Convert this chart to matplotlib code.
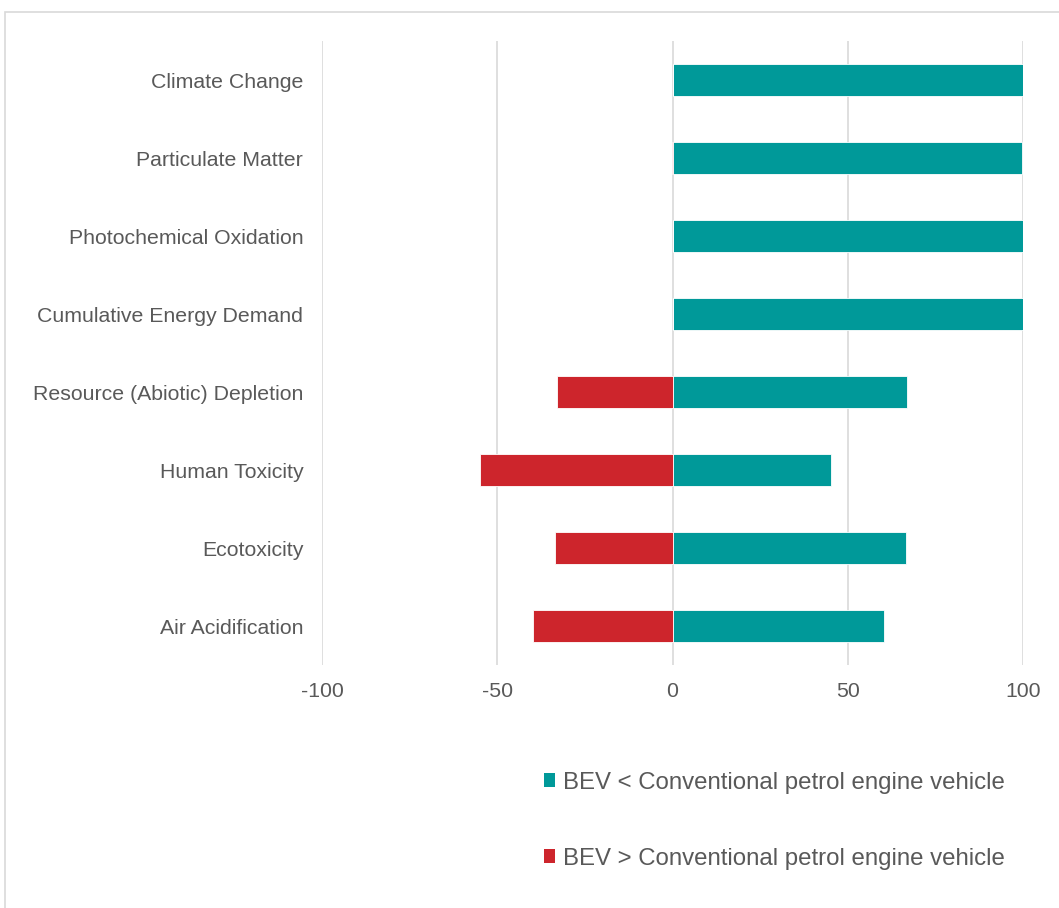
import matplotlib.pyplot as plt
from matplotlib.patches import Rectangle, Patch

plt.rcParams['font.family'] = ['Liberation Sans', 'DejaVu Sans']

# Categorias de impacto (de arriba abajo)
categorias = ["Climate Change", "Particulate Matter", "Photochemical Oxidation",
              "Cumulative Energy Demand", "Resource (Abiotic) Depletion",
              "Human Toxicity", "Ecotoxicity", "Air Acidification"]
bev_menor = [100, 99.8, 100, 100, 67.0, 45.2, 66.5, 60.2]
bev_mayor = [0, -0.2, 0, 0, -33.0, -54.8, -33.5, -39.8]
etiquetas = ["BEV < Conventional petrol engine vehicle",
             "BEV > Conventional petrol engine vehicle"]
ticks_x = [-100, -50, 0, 50, 100]

verde = '#009999'
rojo = '#CD252C'
gris_texto = '#595959'
gris_rejilla = '#D9D9D9'

fig = plt.figure(figsize=(10.59, 9.08), dpi=100)
ax = fig.add_axes([322 / 1059, 1 - 665 / 908, 701 / 1059, 624 / 908])

y = range(len(categorias))
ax.barh(y, bev_menor, height=0.4, color=verde, edgecolor='white', linewidth=0.6)
ax.barh(y, bev_mayor, height=0.4, color=rojo, edgecolor='white', linewidth=0.6)

ax.set_xlim(-100, 100)
ax.set_ylim(len(categorias) - 0.5, -0.5)
ax.set_xticks(ticks_x)
ax.set_xticklabels([str(t) for t in ticks_x])
ax.set_yticks(list(y))
ax.set_yticklabels(categorias)

ax.grid(axis='x', color=gris_rejilla, linewidth=1.2)
ax.set_axisbelow(True)
for s in ax.spines.values():
    s.set_visible(False)
ax.tick_params(axis='both', length=0, labelsize=15.3, colors=gris_texto)
ax.tick_params(axis='y', pad=13.5)
ax.tick_params(axis='x', pad=12)

# Leyenda en dos filas
handles = [Patch(facecolor=verde), Patch(facecolor=rojo)]
leg = fig.legend(handles, etiquetas, loc='upper left',
                 bbox_to_anchor=(544 / 1059, 1 - 771.5 / 908),
                 frameon=False, fontsize=17.3, labelcolor=gris_texto,
                 handlelength=0.47, handleheight=0.47, handletextpad=0.3,
                 labelspacing=2.25, borderpad=0, borderaxespad=0)

# Marco exterior del grafico
marco = Rectangle((4.5 / 1059, -0.1), 1.2, 1 - 11.5 / 908 + 0.1,
                  transform=fig.transFigure, fill=False,
                  edgecolor='#D9D9D9', linewidth=1.2, clip_on=False)
fig.patches.append(marco)

fig.savefig('out.png', dpi=100, facecolor='white')
